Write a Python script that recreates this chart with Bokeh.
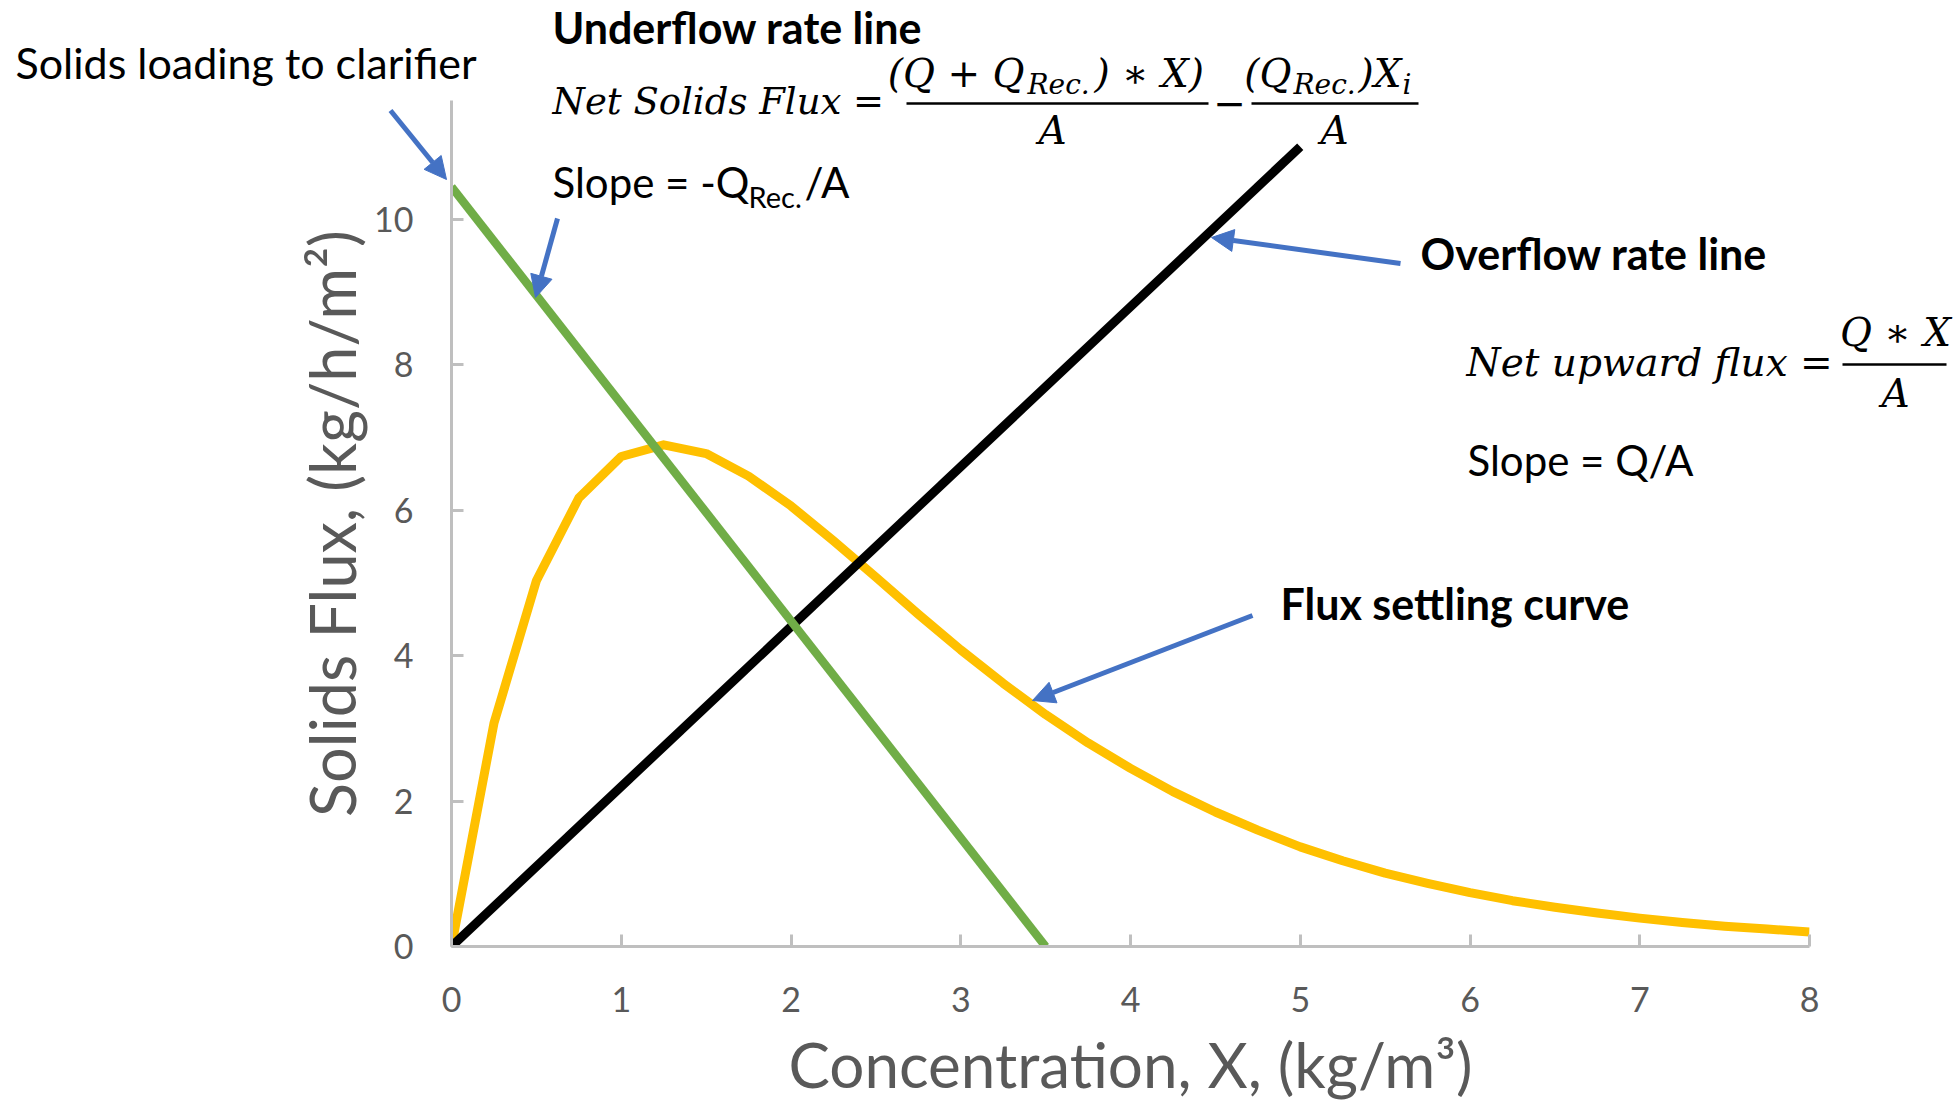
from bokeh.plotting import figure
from bokeh.layouts import column
from bokeh.models import Label, Arrow, NormalHead, Range1d, FixedTicker
from bokeh.embed import file_html
from bokeh.resources import INLINE

# ---- data ----
conc = [0, 0.25, 0.5, 0.75, 1.0, 1.25, 1.5, 1.75, 2.0, 2.25, 2.5, 2.75, 3.0, 3.25, 3.5, 3.75,
        4.0, 4.25, 4.5, 4.75, 5.0, 5.25, 5.5, 5.75, 6.0, 6.25, 6.5, 6.75, 7.0, 7.25, 7.5, 7.75, 8.0]
settling_flux = [0, 3.07, 5.03, 6.17, 6.74, 6.90, 6.78, 6.47, 6.06, 5.58, 5.08, 4.57, 4.08, 3.62,
                 3.19, 2.80, 2.45, 2.13, 1.85, 1.60, 1.37, 1.18, 1.01, 0.87, 0.74, 0.63, 0.54,
                 0.46, 0.39, 0.33, 0.28, 0.24, 0.20]
underflow_x = [0, 3.5]
underflow_y = [10.45, 0]
overflow_x = [0, 5]
overflow_y = [0, 11.0]
x_ticks = [0, 1, 2, 3, 4, 5, 6, 7, 8]
y_ticks = [0, 2, 4, 6, 8, 10]

# ---- layout (pixels of the page) ----
W, H = 1955, 1105
FL, FR, FT, FB = 451, 1809, 100, 946
XMAX = 8.0
YPX = 72.7
YMAX = (FB - FT) / YPX
XPX = (FR - FL) / XMAX


def dx(px):
    return (px - FL) / XPX


def dy(py):
    return (FB - py) / YPX


# ---- main chart ----
p = figure(width=W, height=H, x_range=Range1d(0, XMAX), y_range=Range1d(0, YMAX),
           output_backend="svg", toolbar_location=None,
           min_border_left=FL, min_border_right=W - FR, min_border_top=FT, min_border_bottom=H - FB)
p.outline_line_color = None
p.xgrid.grid_line_color = None
p.ygrid.grid_line_color = None
p.background_fill_color = "white"
p.border_fill_color = "white"

p.line(conc, settling_flux, line_color="#FFC000", line_width=9, line_join="round")
p.line(overflow_x, overflow_y, line_color="black", line_width=9)
p.line(underflow_x, underflow_y, line_color="#70AD47", line_width=8.5)

for ax, ticks in ((p.xaxis[0], x_ticks), (p.yaxis[0], y_ticks)):
    ax.ticker = FixedTicker(ticks=ticks)
    ax.axis_line_color = "#BFBFBF"
    ax.axis_line_width = 3
    ax.major_tick_line_color = "#BFBFBF"
    ax.major_tick_line_width = 3
    ax.major_tick_in = 12
    ax.major_tick_out = 0
    ax.minor_tick_line_color = None
    ax.major_label_text_font = "Lato"
    ax.major_label_text_font_size = "34px"
    ax.major_label_text_color = "#595959"
    ax.axis_label_text_font = "Lato"
    ax.axis_label_text_font_style = "normal"
    ax.axis_label_text_color = "#595959"

p.xaxis[0].axis_label = "Concentration, X, (kg/m³)"
p.xaxis[0].axis_label_text_font_size = "62px"
p.xaxis[0].major_label_standoff = 40
p.xaxis[0].axis_label_standoff = 12
p.yaxis[0].axis_label = "Solids Flux, (kg/h/m²)"
p.yaxis[0].axis_label_text_font_size = "63px"
p.yaxis[0].major_label_standoff = 38
p.yaxis[0].axis_label_standoff = 2

# ---- transparent overlay carrying the annotations (same data mapping) ----
ov = figure(width=W, height=H, x_range=Range1d(dx(0), dx(W)), y_range=Range1d(dy(H), dy(0)),
            output_backend="svg", toolbar_location=None, min_border=0,
            x_axis_location=None, y_axis_location=None, margin=(-H, 0, 0, 0))
ov.grid.visible = False
ov.outline_line_color = None
ov.background_fill_alpha = 0
ov.border_fill_alpha = 0

for fig in (p, ov):
    if "frame_align" in fig.properties():
        fig.frame_align = False


def lab(text, px, py, size, font="Lato", style="normal", align="left"):
    ov.add_layout(Label(x=dx(px), y=dy(py), text=text, text_font=font,
                        text_font_size=f"{size}px", text_font_style=style,
                        text_align=align, text_baseline="middle", text_color="black"))


def bar(x1, x2, py):
    ov.add_layout(Arrow(x_start=dx(x1), y_start=dy(py), x_end=dx(x2), y_end=dy(py),
                        start=None, end=None, line_color="black", line_width=2.5))


def arrow(x1, y1, x2, y2):
    ov.add_layout(Arrow(x_start=dx(x1), y_start=dy(y1), x_end=dx(x2), y_end=dy(y2),
                        line_color="#4472C4", line_width=5,
                        end=NormalHead(size=22, fill_color="#4472C4", line_color="#4472C4")))


SERIF = "DejaVu Serif"
EQ = 39
SUB = 28
# left annotations
lab("Solids loading to clarifier", 15, 62, 43)
lab("Underflow rate line", 552, 27, 43, style="bold")
lab("Net Solids Flux =", 552, 101, 37, font=SERIF, style="italic")
lab("(Q + Q", 1024, 73, EQ, font=SERIF, style="italic", align="right")
lab("Rec.", 1027, 84, SUB, font=SERIF, style="italic")
lab(") ∗ X)", 1094, 73, EQ, font=SERIF, style="italic")
bar(906, 1208, 103)
lab("A", 1052, 130, EQ, font=SERIF, style="italic", align="center")
lab("−", 1229, 102, EQ, font=SERIF, align="center")
lab("(Q", 1291, 73, EQ, font=SERIF, style="italic", align="right")
lab("Rec.", 1293, 84, SUB, font=SERIF, style="italic")
lab(")X", 1358, 73, EQ, font=SERIF, style="italic")
lab("i", 1402, 84, SUB, font=SERIF, style="italic")
bar(1251, 1418, 103)
lab("A", 1334, 130, EQ, font=SERIF, style="italic", align="center")
lab("Slope = -Q", 552, 181, 42)
lab("Rec.", 748, 196, 29)
lab("/A", 804, 181, 42)

# right annotations
lab("Overflow rate line", 1420, 253, 43, style="bold")
lab("Net upward flux =", 1466, 362, EQ, font=SERIF, style="italic")
lab("Q ∗ X", 1895, 332, EQ, font=SERIF, style="italic", align="center")
bar(1842, 1946, 364)
lab("A", 1895, 393, EQ, font=SERIF, style="italic", align="center")
lab("Slope = Q/A", 1467, 459, 42)
lab("Flux settling curve", 1280, 603, 43, style="bold")

arrow(390, 110, 446, 179)
arrow(557, 218, 535, 297)
arrow(1400, 263, 1211, 237)
arrow(1252, 615, 1032, 700)

layout = column(p, ov)
open("out.html", "w").write(file_html(layout, INLINE))
